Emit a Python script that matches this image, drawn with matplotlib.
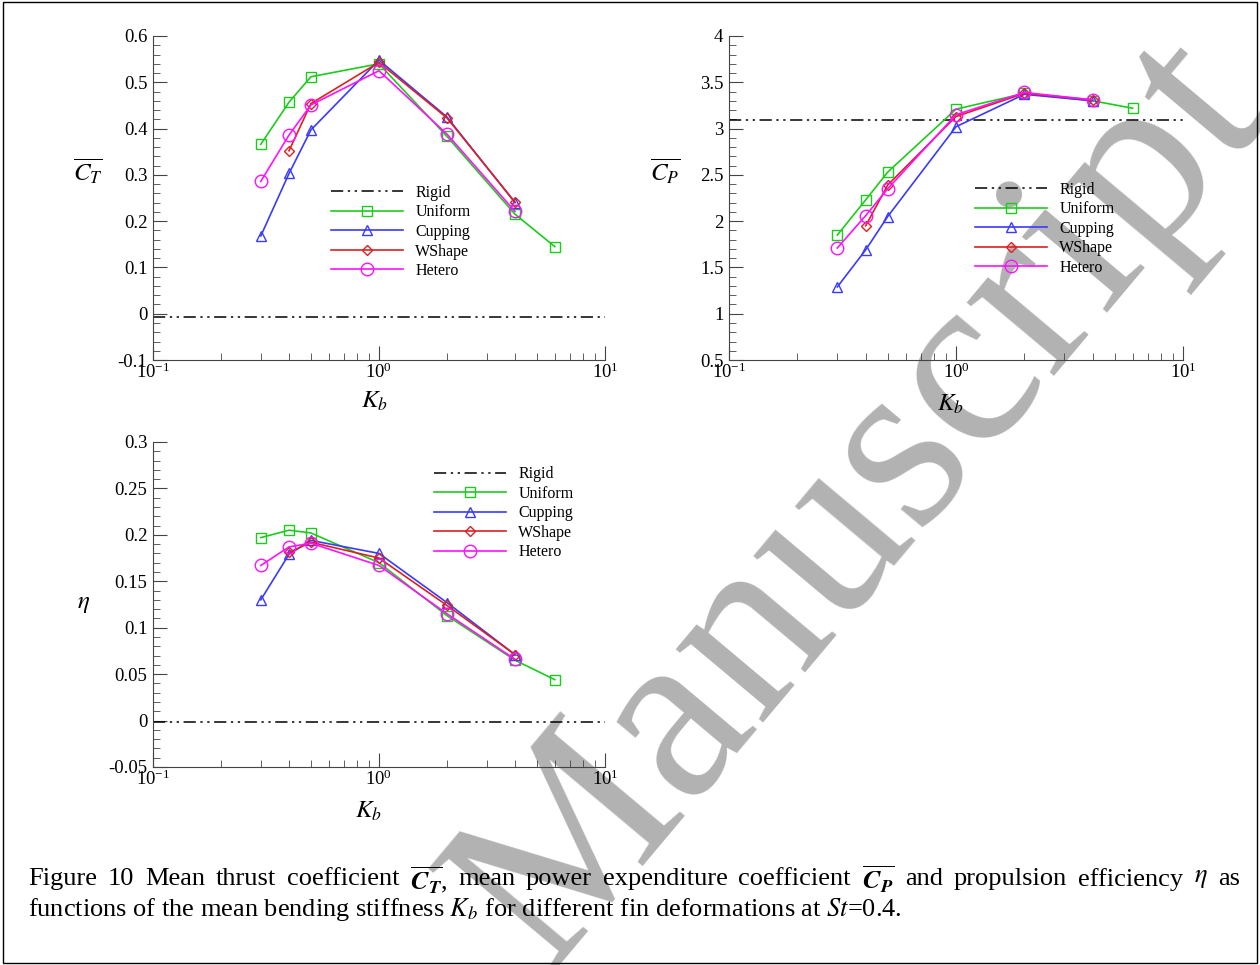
import matplotlib
matplotlib.use('Agg')
import matplotlib.pyplot as plt
from matplotlib.patches import Rectangle
from matplotlib.ticker import MultipleLocator, FuncFormatter

plt.rcParams['font.family'] = ['Liberation Serif', 'DejaVu Serif']
plt.rcParams['mathtext.fontset'] = 'stix'
plt.rcParams['axes.unicode_minus'] = False

# bending stiffness values
kb_uniform = [0.3, 0.4, 0.5, 1, 2, 4, 6]
kb_cupping = [0.3, 0.4, 0.5, 1, 2, 4]
kb_wshape = [0.4, 0.5, 1, 2, 4]
kb_hetero = [0.3, 0.4, 0.5, 1, 2, 4]

# mean thrust coefficient
ct_rigid = -0.006
ct_uniform = [0.366, 0.457, 0.512, 0.540, 0.383, 0.215, 0.145]
ct_cupping = [0.168, 0.303, 0.397, 0.548, 0.425, 0.240]
ct_wshape = [0.352, 0.454, 0.543, 0.423, 0.241]
ct_hetero = [0.286, 0.386, 0.451, 0.525, 0.388, 0.221]

# mean power expenditure coefficient
cp_rigid = 3.09
cp_uniform = [1.85, 2.23, 2.53, 3.21, 3.38, 3.30, 3.22]
cp_cupping = [1.29, 1.69, 2.05, 3.02, 3.37, 3.30]
cp_wshape = [1.95, 2.39, 3.13, 3.38, 3.31]
cp_hetero = [1.71, 2.06, 2.35, 3.15, 3.39, 3.31]

# propulsion efficiency
eta_rigid = -0.002
eta_uniform = [0.197, 0.205, 0.202, 0.170, 0.113, 0.065, 0.044]
eta_cupping = [0.130, 0.179, 0.194, 0.180, 0.127, 0.071]
eta_wshape = [0.181, 0.192, 0.175, 0.124, 0.071]
eta_hetero = [0.167, 0.187, 0.191, 0.167, 0.115, 0.066]

rigid_ls = (0, (8, 3, 1.5, 3, 1.5, 3))


def draw(ax, rigid, uni, cup, wsh, het, ylim, ystep, ylab, lab_xy, leg_xy, kb_xy):
    ax.set_facecolor('none')
    ax.axhline(rigid, color='black', ls=rigid_ls, lw=1.1, label='Rigid')
    ax.plot(kb_uniform, uni, color='#1ccc1c', lw=1.2, marker='s', ms=7, mfc='none', mew=1.0, label='Uniform')
    ax.plot(kb_cupping, cup, color='#3a3aff', lw=1.2, marker='^', ms=7, mfc='none', mew=1.0, label='Cupping')
    ax.plot(kb_wshape, wsh, color='#dd2020', lw=1.2, marker='D', ms=5, mfc='none', mew=1.0, label='WShape')
    ax.plot(kb_hetero, het, color='#ff10ff', lw=1.2, marker='o', ms=9, mfc='none', mew=1.0, label='Hetero')
    ax.set_xscale('log')
    ax.set_xlim(0.1, 10)
    ax.set_ylim(*ylim)
    ax.yaxis.set_major_locator(MultipleLocator(ystep))
    ax.yaxis.set_minor_locator(MultipleLocator(ystep / 5))
    ax.yaxis.set_major_formatter(FuncFormatter(lambda v, p: f'{v:g}' if abs(v) > 1e-9 else '0'))
    for s in ['top', 'right']:
        ax.spines[s].set_visible(False)
    ax.spines['left'].set_color('#444')
    ax.spines['bottom'].set_color('#444')
    ax.tick_params(which='both', direction='in', colors='#444', labelcolor='black')
    ax.tick_params(which='major', length=10, labelsize=13.5)
    ax.tick_params(which='minor', length=5)
    ax.tick_params(axis='x', pad=2)
    ax.tick_params(axis='y', pad=4)
    ax.set_ylabel(ylab, fontsize=18, rotation=0, va='center', ha='center')
    ax.yaxis.set_label_coords(*lab_xy)
    ax.set_xlabel(r'$K_b$', fontsize=18)
    ax.xaxis.set_label_coords(*kb_xy)
    ax.legend(loc='upper left', bbox_to_anchor=leg_xy, frameon=False, fontsize=11.5,
              handlelength=4.5, handletextpad=0.8, labelspacing=0.22, borderaxespad=0)


fig = plt.figure(figsize=(12.6, 9.65), dpi=100)
fig.patch.set_facecolor('white')

# watermark behind everything
fig.text(0.721, 0.439, 'Manuscript', rotation=50, fontsize=178, color='#b2b2b2',
         family='Liberation Serif', ha='center', va='baseline', rotation_mode='anchor', zorder=-5)

ax1 = fig.add_axes([0.1214, 0.6269, 0.3587, 0.3358])
ax2 = fig.add_axes([0.5786, 0.6269, 0.3603, 0.3358])
ax3 = fig.add_axes([0.1214, 0.2052, 0.3587, 0.3368])

draw(ax1, ct_rigid, ct_uniform, ct_cupping, ct_wshape, ct_hetero, (-0.1, 0.6), 0.1,
     r'$\overline{C_T}$', (-0.144, 0.58), (0.379, 0.56), (0.49, -0.09))
draw(ax2, cp_rigid, cp_uniform, cp_cupping, cp_wshape, cp_hetero, (0.5, 4), 0.5,
     r'$\overline{C_P}$', (-0.141, 0.58), (0.527, 0.57), (0.488, -0.1))
draw(ax3, eta_rigid, eta_uniform, eta_cupping, eta_wshape, eta_hetero, (-0.05, 0.3), 0.05,
     r'$\eta$', (-0.153, 0.50), (0.607, 0.945), (0.476, -0.1))

# caption, first line justified to the full width
cap_size = 19
line1 = [r'Figure', r'10', r'Mean', r'thrust', r'coefficient', r'$\overline{\mathbfit{C_T}}$,',
         r'mean', r'power', r'expenditure', r'coefficient', r'$\overline{\mathbfit{C_P}}$', r'and',
         r'propulsion', r'efficiency', r'$\eta$', r'as']
x0, x1 = 28 / 1260, 1240 / 1260
renderer = fig.canvas.get_renderer()
words = [fig.text(0, 0.089, w, fontsize=cap_size, ha='left', va='center') for w in line1]
widths = [t.get_window_extent(renderer).width / fig.bbox.width for t in words]
gap = (x1 - x0 - sum(widths)) / (len(words) - 1)
x = x0
for t, w in zip(words, widths):
    t.set_x(x)
    x += w + gap
fig.text(x0, 0.058,
         r'functions of the mean bending stiffness $K_b$ for different fin deformations at $St$=0.4.',
         fontsize=cap_size, ha='left', va='center')

fig.add_artist(Rectangle((0.002, 0.002), 0.996, 0.996, transform=fig.transFigure,
                         fill=False, lw=1.0, ec='black'))

fig.savefig('out.png', dpi=100, facecolor='white')
